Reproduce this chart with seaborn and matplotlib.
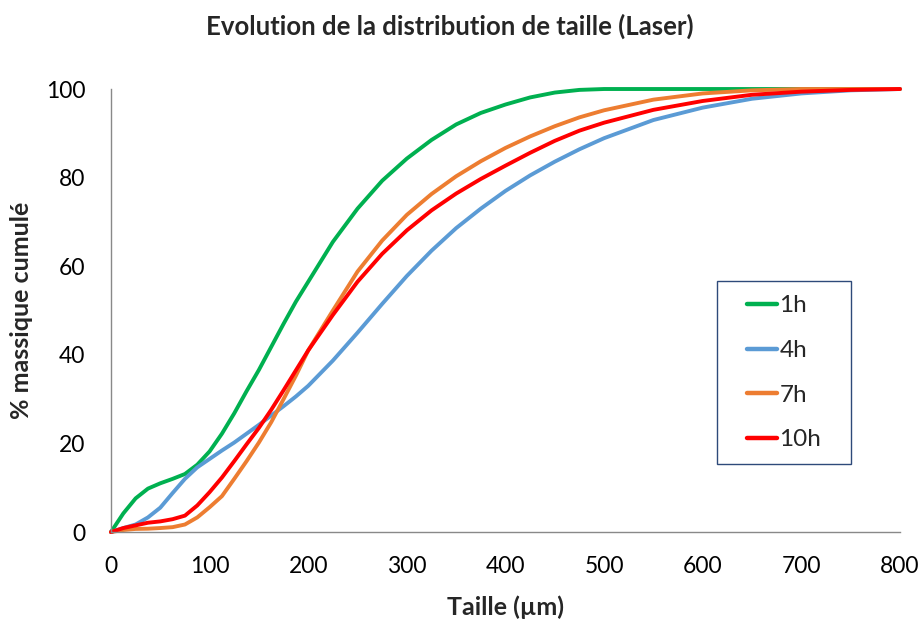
import numpy as np
import pandas as pd
import matplotlib
matplotlib.use('Agg')
import matplotlib.pyplot as plt
from matplotlib.patches import Rectangle
import seaborn as sns

# taille (um)
taille = [0, 12.5, 25, 37.5, 50, 62.5, 75, 87.5, 100, 112.5, 125, 137.5, 150, 162.5,
          175, 187.5, 200, 225, 250, 275, 300, 325, 350, 375, 400, 425, 450, 475,
          500, 550, 600, 650, 700, 750, 800]

cum_1h = [0, 4.2, 7.6, 9.8, 11, 12, 13.1, 15.2, 18.2, 22.2, 26.8, 31.8, 36.6, 41.8,
          47, 52, 56.5, 65.5, 73, 79.3, 84.3, 88.5, 92, 94.6, 96.5, 98.1, 99.2, 99.8,
          100, 100, 100, 100, 100, 100, 100]
cum_4h = [0, 0.9, 1.7, 3.3, 5.5, 8.8, 12, 14.6, 16.5, 18.4, 20.2, 22.2, 24.2, 26.3,
          28.4, 30.6, 33, 38.7, 45, 51.5, 57.8, 63.5, 68.6, 73, 77, 80.5, 83.6, 86.4,
          88.9, 93, 95.8, 97.8, 99, 99.7, 100]
cum_7h = [0, 0.45, 0.7, 0.75, 0.9, 1.1, 1.7, 3.3, 5.6, 8.1, 12, 16, 20.2, 24.8,
          30, 35.3, 41, 50, 58.8, 65.8, 71.6, 76.3, 80.3, 83.7, 86.7, 89.3, 91.6, 93.6,
          95.2, 97.6, 99, 99.7, 100, 100, 100]
cum_10h = [0, 0.9, 1.5, 2.1, 2.4, 2.9, 3.7, 6, 9, 12.3, 16, 19.8, 23.5, 27.6,
           32, 36.5, 41, 49, 56.5, 62.8, 68.1, 72.6, 76.4, 79.7, 82.7, 85.6, 88.3, 90.6,
           92.4, 95.3, 97.3, 98.7, 99.4, 99.8, 100]

series = ['1h', '4h', '7h', '10h']
colors = {'1h': '#00B050', '4h': '#5B9BD5', '7h': '#ED7D31', '10h': '#FF0000'}

df = pd.DataFrame({
    'taille': taille * 4,
    'cumul': cum_1h + cum_4h + cum_7h + cum_10h,
    'serie': [s for s in series for _ in taille],
})

sns.set_style('white')
plt.rcParams['font.family'] = ['Lato', 'DejaVu Sans']

fig = plt.figure(figsize=(9.24, 6.19), dpi=100)
ax = fig.add_axes([0.1201, 0.1405, 0.8539, 0.7157])

sns.lineplot(data=df, x='taille', y='cumul', hue='serie', hue_order=series,
             palette=colors, linewidth=2.8, ax=ax, legend=True, clip_on=False)
for line in ax.get_lines():
    line.set_solid_capstyle('round')
    line.set_solid_joinstyle('round')

ax.set_xlim(0, 800)
ax.set_ylim(0, 100)
ax.set_xticks(range(0, 801, 100))
ax.set_yticks(range(0, 101, 20))

grey = '#898989'
for s in ['top', 'right']:
    ax.spines[s].set_visible(False)
for s in ['left', 'bottom']:
    ax.spines[s].set_color(grey)
    ax.spines[s].set_linewidth(1.0)
ax.tick_params(axis='both', direction='out', length=6.5, width=1.0, color=grey,
               labelsize=16.5, labelcolor='#000000')
ax.tick_params(axis='x', pad=11)
ax.tick_params(axis='y', pad=12)

ax.set_xlabel('Taille (µm)', fontsize=18, fontweight='bold')
ax.set_ylabel('% massique cumulé', fontsize=18, fontweight='bold')
ax.xaxis.set_label_coords(0.5, -0.143)
ax.yaxis.set_label_coords(-0.099, 0.5)
fig.text(0.487, 0.958, 'Evolution de la distribution de taille (Laser)',
         ha='center', va='center', fontsize=18.5, fontweight='bold')

# legende dans un cadre bleu fonce
leg = ax.legend(loc='upper left', bbox_to_anchor=(0.782, 0.578), frameon=False,
                fontsize=17.5, handlelength=1.2, handletextpad=0.12,
                labelspacing=0.97, borderpad=0.3, title=None)
for line in leg.get_lines():
    line.set_linewidth(3.2)
ax.add_patch(Rectangle((0.768, 0.153), 0.170, 0.414, transform=ax.transAxes,
                       fill=False, edgecolor='#2E4A7A', linewidth=1.0, clip_on=False))

fig.savefig('out.png', dpi=100)
